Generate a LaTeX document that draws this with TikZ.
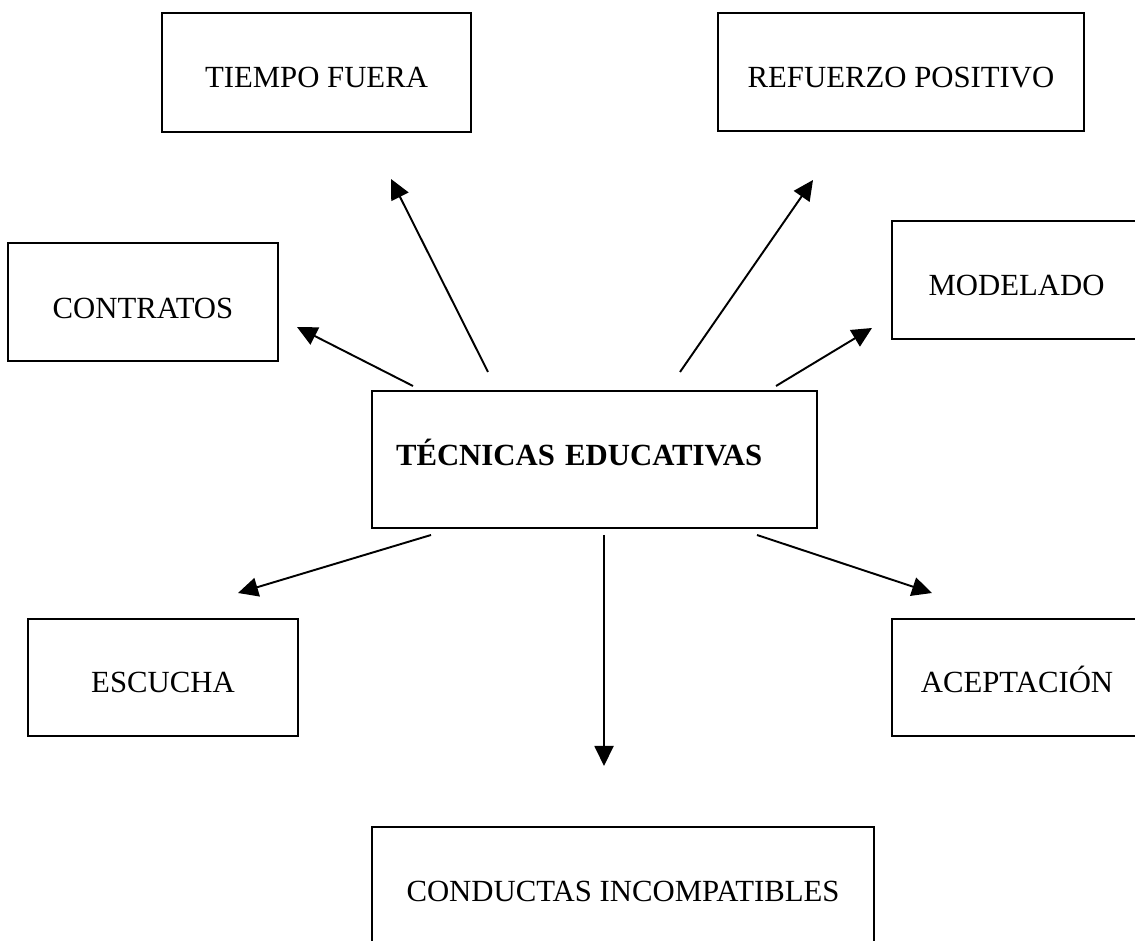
\documentclass[tikz,border=0pt]{standalone}
\usepackage{fontspec}
\setmainfont{Liberation Serif}
\usetikzlibrary{arrows.meta}

\tikzset{
  caja/.style={shape=rectangle, draw=black, line width=1.1pt,
    font=\fontsize{17.5}{21}\selectfont, text height=0.62cm, text depth=0pt},
  flecha/.style={line width=1.1pt, -{Triangle[length=0.4cm, width=0.38cm]}}
}

\begin{document}
\begin{tikzpicture}
    \useasboundingbox (0,0) rectangle (22.7,18.8);
    \clip (0,0) rectangle (22.7,18.8);

    \node[caja, minimum width=6.18cm, minimum height=2.38cm] (tiempo) at (6.33,17.35) {TIEMPO FUERA};
    \node[caja, minimum width=7.32cm, minimum height=2.36cm] (refuerzo) at (18.02,17.36) {REFUERZO POSITIVO};
    \node[caja, minimum width=5.40cm, minimum height=2.36cm, text height=0.68cm] (contratos) at (2.86,12.76) {CONTRATOS};
    \node[caja, minimum width=4.98cm, minimum height=2.36cm] (modelado) at (20.33,13.20) {MODELADO};
    \node[caja, minimum width=8.90cm, minimum height=2.74cm, text height=0.26cm,
          inner xsep=0.48cm, text width=7.94cm, align=left] (tecnicas) at (11.89,9.61) {\textbf{TÉCNICAS EDUCATIVAS}};
    \node[caja, minimum width=5.40cm, minimum height=2.34cm] (escucha) at (3.26,5.25) {ESCUCHA};
    \node[caja, minimum width=5.00cm, minimum height=2.34cm] (aceptacion) at (20.34,5.25) {ACEPTACIÓN};
    \node[caja, minimum width=10.04cm, minimum height=2.38cm] (conductas) at (12.46,1.07) {CONDUCTAS INCOMPATIBLES};

    \coordinate (s1) at (9.76,11.36);  \coordinate (e1) at (7.82,15.22);
    \coordinate (s2) at (13.60,11.36); \coordinate (e2) at (16.26,15.20);
    \coordinate (s3) at (8.26,11.08);  \coordinate (e3) at (5.94,12.26);
    \coordinate (s4) at (15.52,11.08); \coordinate (e4) at (17.44,12.24);
    \coordinate (s5) at (8.62,8.10);   \coordinate (e5) at (4.76,6.94);
    \coordinate (s6) at (12.08,8.10);  \coordinate (e6) at (12.08,3.48);
    \coordinate (s7) at (15.14,8.10);  \coordinate (e7) at (18.64,6.94);

    \path[flecha] (s1) edge (e1);
    \path[flecha] (s2) edge (e2);
    \path[flecha] (s3) edge (e3);
    \path[flecha] (s4) edge (e4);
    \path[flecha] (s5) edge (e5);
    \path[flecha] (s6) edge (e6);
    \path[flecha] (s7) edge (e7);
\end{tikzpicture}
\end{document}
